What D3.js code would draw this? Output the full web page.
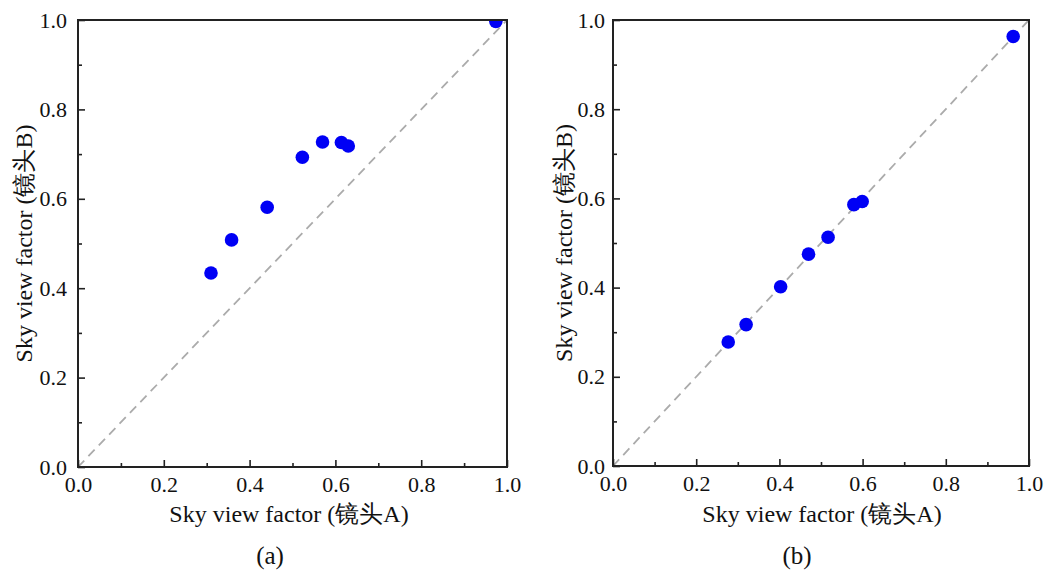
<!DOCTYPE html>
<html>
<head>
<meta charset="utf-8">
<script src="https://cdn.jsdelivr.net/npm/d3@7/dist/d3.min.js"></script>
<style>
  html, body { margin: 0; padding: 0; background: #fff; }
  svg { display: block; }
</style>
</head>
<body>
<svg id="chart" width="1051" height="572"></svg>
<script>
// ---- data ----
const panelAX = [0.310, 0.358, 0.441, 0.523, 0.570, 0.614, 0.630, 0.974];
const panelAY = [0.434, 0.508, 0.581, 0.693, 0.727, 0.726, 0.718, 0.997];
const panelBX = [0.277, 0.320, 0.403, 0.470, 0.517, 0.579, 0.599, 0.962];
const panelBY = [0.278, 0.317, 0.402, 0.475, 0.513, 0.586, 0.593, 0.963];
const majorTicks = [0.0, 0.2, 0.4, 0.6, 0.8, 1.0];
const minorTicks = [0.1, 0.3, 0.5, 0.7, 0.9];
const xTitle = "Sky view factor (镜头A)";
const yTitle = "Sky view factor (镜头B)";
const panelLabels = ["(a)", "(b)"];

const FONT = '"Liberation Serif"';

const svg = d3.select("#chart");

const panels = [
  { xs: panelAX, ys: panelAY, left: 78, right: 507, top: 20, bottom: 467, yTitleX: 32, labelX: 270, xTitleX: 289, label: panelLabels[0], tickGap: 11 },
  { xs: panelBX, ys: panelBY, left: 613, right: 1029, top: 20, bottom: 466, yTitleX: 572, labelX: 797, xTitleX: 822, label: panelLabels[1], tickGap: 8 }
];

panels.forEach((p, i) => {
  const x = d3.scaleLinear().domain([0, 1]).range([p.left, p.right]);
  const y = d3.scaleLinear().domain([0, 1]).range([p.bottom, p.top]);
  const g = svg.append("g");

  const clipId = "clip" + i;
  svg.append("defs").append("clipPath").attr("id", clipId)
    .append("rect").attr("x", p.left).attr("y", p.top)
    .attr("width", p.right - p.left).attr("height", p.bottom - p.top);

  // diagonal 1:1 line
  g.append("line")
    .attr("x1", x(0)).attr("y1", y(0)).attr("x2", x(1)).attr("y2", y(1))
    .attr("stroke", "#ababab").attr("stroke-width", 1.8)
    .attr("stroke-dasharray", "9,6");

  // points
  const pts = p.xs.map((v, k) => [v, p.ys[k]]);
  g.append("g").attr("clip-path", `url(#${clipId})`)
    .selectAll("circle").data(pts).join("circle")
    .attr("cx", d => x(d[0])).attr("cy", d => y(d[1]))
    .attr("r", 6.8).attr("fill", "#0000f5");

  // x axis (ticks inside)
  const xAxis = d3.axisBottom(x).tickValues(majorTicks).tickFormat(d3.format(".1f"))
    .tickSizeInner(-7).tickSizeOuter(0).tickPadding(9);
  const gx = g.append("g").attr("transform", `translate(0,${p.bottom})`).call(xAxis);
  gx.select(".domain").remove();
  gx.selectAll(".tick line").attr("stroke", "#222").attr("stroke-width", 1.6);
  gx.selectAll(".tick text").attr("fill", "#111")
    .style("font-family", FONT).style("font-size", "22px");
  const xMinor = d3.axisBottom(x).tickValues(minorTicks).tickFormat("").tickSizeInner(-4).tickSizeOuter(0);
  const gxm = g.append("g").attr("transform", `translate(0,${p.bottom})`).call(xMinor);
  gxm.select(".domain").remove();
  gxm.selectAll(".tick line").attr("stroke", "#222").attr("stroke-width", 1.6);

  // y axis
  const yAxis = d3.axisLeft(y).tickValues(majorTicks).tickFormat(d3.format(".1f"))
    .tickSizeInner(-7).tickSizeOuter(0).tickPadding(p.tickGap);
  const gy = g.append("g").attr("transform", `translate(${p.left},0)`).call(yAxis);
  gy.select(".domain").remove();
  gy.selectAll(".tick line").attr("stroke", "#222").attr("stroke-width", 1.6);
  gy.selectAll(".tick text").attr("fill", "#111").attr("x", -p.tickGap)
    .style("font-family", FONT).style("font-size", "22px");
  const yMinor = d3.axisLeft(y).tickValues(minorTicks).tickFormat("").tickSizeInner(-4).tickSizeOuter(0);
  const gym = g.append("g").attr("transform", `translate(${p.left},0)`).call(yMinor);
  gym.select(".domain").remove();
  gym.selectAll(".tick line").attr("stroke", "#222").attr("stroke-width", 1.6);

  // frame
  g.append("rect")
    .attr("x", p.left).attr("y", p.top)
    .attr("width", p.right - p.left).attr("height", p.bottom - p.top)
    .attr("fill", "none").attr("stroke", "#222").attr("stroke-width", 2);

  // axis titles
  g.append("text").attr("x", p.xTitleX).attr("y", 522)
    .attr("fill", "#111").attr("text-anchor", "middle")
    .style("font-family", FONT).style("font-size", "24px").text(xTitle);
  g.append("text")
    .attr("transform", `translate(${p.yTitleX},${(p.top + p.bottom) / 2}) rotate(-90)`)
    .attr("fill", "#111").attr("text-anchor", "middle")
    .style("font-family", FONT).style("font-size", "24px").text(yTitle);

  // panel label
  g.append("text").attr("x", p.labelX).attr("y", 564)
    .attr("fill", "#111").attr("text-anchor", "middle")
    .style("font-family", FONT).style("font-size", "25px").text(p.label);
});
</script>
</body>
</html>
